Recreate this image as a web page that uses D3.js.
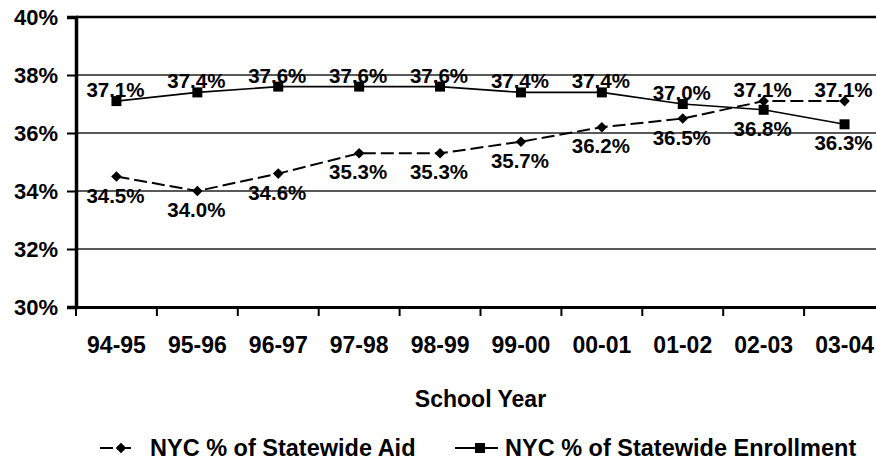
<!DOCTYPE html>
<html>
<head>
<meta charset="utf-8">
<script src="https://cdn.jsdelivr.net/npm/d3@7"></script>
<style>
  body { margin: 0; background: #fff; }
  svg text { font-family: "Liberation Sans", Arial, sans-serif; font-weight: bold; fill: #000; }
</style>
</head>
<body>
<div id="chart"></div>
<script>
var years = ["94-95", "95-96", "96-97", "97-98", "98-99", "99-00", "00-01", "01-02", "02-03", "03-04"];
var aidShare = [34.5, 34.0, 34.6, 35.3, 35.3, 35.7, 36.2, 36.5, 37.1, 37.1];
var enrollShare = [37.1, 37.4, 37.6, 37.6, 37.6, 37.4, 37.4, 37.0, 36.8, 36.3];
var aidLabelSide = ["below", "below", "below", "below", "below", "below", "below", "below", "above", "above"];
var enrollLabelSide = ["above", "above", "above", "above", "above", "above", "above", "above", "below", "below"];
var yTicks = [30, 32, 34, 36, 38, 40];
var legendNames = ["NYC % of Statewide Aid", "NYC % of Statewide Enrollment"];

function drawChart(width, height) {
  var left = 76, right = 885, top = 17, bottom = 307;

  var svg = d3.select("#chart")
              .append("svg")
              .attr("width", width)
              .attr("height", height);

  var x = d3.scaleBand().domain(years).range([left, right]);
  var y = d3.scaleLinear().domain([30, 40]).range([bottom, top]);
  var cx = d => x(d) + x.bandwidth() / 2;

  // gridlines
  svg.append("g")
     .selectAll("line")
     .data(yTicks.filter(t => t > 30 && t < 40))
     .enter().append("line")
       .attr("x1", left).attr("x2", right)
       .attr("y1", d => y(d)).attr("y2", d => y(d))
       .attr("stroke", "#222")
       .attr("stroke-width", 1.3);

  // top border
  svg.append("line")
     .attr("x1", left).attr("x2", right)
     .attr("y1", y(40)).attr("y2", y(40))
     .attr("stroke", "#000")
     .attr("stroke-width", 2.5);

  // y axis
  var yAxis = svg.append("g")
     .attr("transform", "translate(" + left + ",0)")
     .call(d3.axisLeft(y).tickValues(yTicks).tickSize(9).tickPadding(9).tickFormat(d => d + "%"));
  yAxis.select(".domain").attr("stroke-width", 3.5);
  yAxis.selectAll(".tick line").attr("stroke-width", 2);
  yAxis.selectAll("text").style("font-size", "22px").attr("fill", "#000");

  // x axis (labels centred, ticks between categories)
  var xAxis = svg.append("g")
     .attr("transform", "translate(0," + bottom + ")")
     .call(d3.axisBottom(x).tickSize(0).tickPadding(30));
  xAxis.select(".domain").attr("stroke-width", 3);
  xAxis.selectAll("text").style("font-size", "23px").attr("fill", "#000");

  svg.append("g")
     .selectAll("line")
     .data(years.map(d => x(d)).concat([right]))
     .enter().append("line")
       .attr("x1", d => d).attr("x2", d => d)
       .attr("y1", bottom).attr("y2", bottom + 9)
       .attr("stroke", "#000")
       .attr("stroke-width", 2);

  svg.append("text")
     .attr("x", (left + right) / 2)
     .attr("y", 407)
     .attr("text-anchor", "middle")
     .style("font-size", "23px")
     .text("School Year");

  var line = d3.line().x((d, i) => cx(years[i])).y(d => y(d));

  // aid series (dashed, diamonds)
  svg.append("path")
     .datum(aidShare)
     .attr("d", line)
     .attr("fill", "none")
     .attr("stroke", "#000")
     .attr("stroke-width", 2)
     .attr("stroke-dasharray", "13,5");

  // enrollment series (solid, squares)
  svg.append("path")
     .datum(enrollShare)
     .attr("d", line)
     .attr("fill", "none")
     .attr("stroke", "#000")
     .attr("stroke-width", 1.6);

  var diamond = d3.symbol().type(d3.symbolDiamond2).size(72);
  var square = d3.symbol().type(d3.symbolSquare).size(100);

  svg.append("g")
     .selectAll("path")
     .data(aidShare)
     .enter().append("path")
       .attr("d", diamond)
       .attr("transform", (d, i) => "translate(" + cx(years[i]) + "," + y(d) + ")");

  svg.append("g")
     .selectAll("path")
     .data(enrollShare)
     .enter().append("path")
       .attr("d", square)
       .attr("transform", (d, i) => "translate(" + cx(years[i]) + "," + y(d) + ")");

  function addLabels(values, sides) {
    svg.append("g")
       .selectAll("text")
       .data(values)
       .enter().append("text")
         .attr("x", (d, i) => cx(years[i]) - 1)
         .attr("y", (d, i) => y(d) + (sides[i] == "above" ? -4 : 26))
         .attr("text-anchor", "middle")
         .style("font-size", "20.5px")
         .text(d => d.toFixed(1) + "%");
  }
  addLabels(enrollShare, enrollLabelSide);
  addLabels(aidShare, aidLabelSide);

  // legend
  var ly = 448;
  svg.append("line")
     .attr("x1", 100).attr("x2", 135).attr("y1", ly).attr("y2", ly)
     .attr("stroke", "#000").attr("stroke-width", 2)
     .attr("stroke-dasharray", "13,5");
  svg.append("path").attr("d", diamond).attr("transform", "translate(121," + ly + ")");
  svg.append("text").attr("x", 150).attr("y", 456).style("font-size", "23.5px").text(legendNames[0]);

  svg.append("line")
     .attr("x1", 455).attr("x2", 498).attr("y1", ly).attr("y2", ly)
     .attr("stroke", "#000").attr("stroke-width", 2);
  svg.append("path").attr("d", square).attr("transform", "translate(480," + ly + ")");
  svg.append("text").attr("x", 505).attr("y", 456).style("font-size", "23.5px").text(legendNames[1]);

  return svg;
}

drawChart(876, 463);
</script>
</body>
</html>
